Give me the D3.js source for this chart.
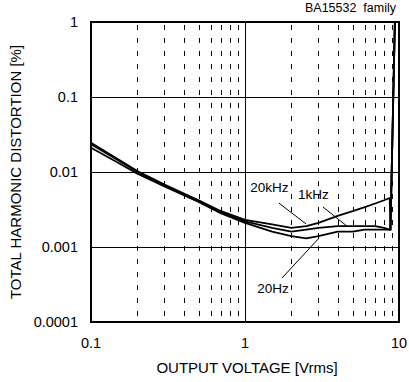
<!DOCTYPE html>
<html><head><meta charset="utf-8">
<script src="https://cdn.jsdelivr.net/npm/d3@7"></script>
<style>
html,body{margin:0;padding:0;background:#fff;}
text{font-family:"Liberation Sans",Arial,sans-serif;fill:#000;}
</style></head>
<body>
<svg id="c" width="409" height="382"></svg>
<script>
const volts   = [0.1, 0.15, 0.2, 0.3, 0.5, 0.7, 1, 1.5, 2, 2.5, 3, 4, 5, 6, 7, 8, 8.7, 8.8, 9.4];
const thd20k  = [0.0245, 0.0148, 0.0103, 0.0068, 0.0042, 0.0030, 0.0023, 0.0020, 0.0018, 0.0019, 0.0021, 0.0026, 0.0030, 0.0034, 0.0038, 0.0042, 0.0045, 0.0017, 1];
const thd1k   = [0.0235, 0.0143, 0.0100, 0.0066, 0.0041, 0.0029, 0.0022, 0.0018, 0.0016, 0.0017, 0.0018, 0.0019, 0.0019, 0.0019, 0.0019, 0.0018, 0.0017, 0.0017, 1];
const thd20   = [0.0210, 0.0133, 0.0095, 0.0064, 0.0040, 0.0028, 0.0021, 0.0016, 0.0014, 0.0013, 0.0014, 0.0016, 0.0016, 0.0017, 0.0017, 0.0017, 0.0017, 0.0017, 1];
const seriesNames = ["20kHz", "1kHz", "20Hz"];
const xTicks = [0.1, 1, 10];
const xTickLabels = ["0.1", "1", "10"];
const yTicks = [0.0001, 0.001, 0.01, 0.1, 1];
const yTickLabels = ["0.0001", "0.001", "0.01", "0.1", "1"];
const xMinor = [0.2,0.3,0.4,0.5,0.6,0.7,0.8,0.9,2,3,4,5,6,7,8,9];
const annotations = [
  {name:"20kHz", tv:1.08, tt:0.0054,  x1:1.66, y1:0.00386, x2:2.49, y2:0.00203},
  {name:"1kHz",  tv:2.21, tt:0.00437, x1:3.21, y1:0.00341, x2:4.59, y2:0.0019},
  {name:"20Hz",  tv:1.2,  tt:0.000244,x1:1.74, y1:0.000386,x2:3.03, y2:0.00132}
];

const svg = d3.select("#c");
const L = 91, R = 399, T = 22, B = 322;
const x = d3.scaleLog().domain([0.1, 10]).range([L, R]);
const y = d3.scaleLog().domain([0.0001, 1]).range([B, T]);

svg.append("g").selectAll("line").data(xMinor).join("line")
  .attr("x1", d => Math.round(x(d)) + 0.5).attr("x2", d => Math.round(x(d)) + 0.5)
  .attr("y1", T + 3).attr("y2", B)
  .attr("stroke", "#000").attr("stroke-width", 1).attr("stroke-dasharray", "5,8");

svg.append("g").selectAll("line").data([1]).join("line")
  .attr("x1", d => Math.round(x(d)) + 0.5).attr("x2", d => Math.round(x(d)) + 0.5)
  .attr("y1", T).attr("y2", B).attr("stroke", "#000").attr("stroke-width", 1);
svg.append("g").selectAll("line").data([0.001, 0.01, 0.1]).join("line")
  .attr("y1", d => Math.round(y(d)) + 0.5).attr("y2", d => Math.round(y(d)) + 0.5)
  .attr("x1", L).attr("x2", R).attr("stroke", "#000").attr("stroke-width", 1);

const line = d3.line().x(d => x(d[0])).y(d => y(d[1]));
[thd20k, thd1k, thd20].forEach((s, i) => {
  const pts = volts.map((v, j) => [v, s[j]]);
  svg.append("path").datum(pts).attr("d", line)
    .attr("fill", "none").attr("stroke", "#000").attr("stroke-width", 1.8)
    .attr("stroke-linejoin", "round");
});

svg.append("rect").attr("x", L).attr("y", T).attr("width", R - L).attr("height", B - T)
  .attr("fill", "none").attr("stroke", "#000").attr("stroke-width", 2);

svg.append("g").selectAll("text").data(xTicks).join("text")
  .attr("x", d => x(d)).attr("y", 348).attr("text-anchor", "middle")
  .attr("font-size", 14.5).text((d, i) => xTickLabels[i]);
svg.append("g").selectAll("text").data(yTicks).join("text")
  .attr("x", 78).attr("y", d => y(d) + 5).attr("text-anchor", "end")
  .attr("font-size", 14.5).text((d, i) => yTickLabels[i]);

svg.append("text").attr("x", 247).attr("y", 373).attr("text-anchor", "middle")
  .attr("font-size", 15).text("OUTPUT VOLTAGE [Vrms]");
svg.append("text").attr("transform", "translate(21,172) rotate(-90)")
  .attr("text-anchor", "middle").attr("font-size", 15).text("TOTAL HARMONIC DISTORTION [%]");
svg.append("text").attr("x", 396).attr("y", 12).attr("text-anchor", "end")
  .attr("font-size", 12.5).style("white-space", "pre").text("BA15532  family");

annotations.forEach(a => {
  svg.append("text").attr("x", x(a.tv)).attr("y", y(a.tt)).attr("font-size", 13.5).text(a.name);
  svg.append("line").attr("x1", x(a.x1)).attr("y1", y(a.y1)).attr("x2", x(a.x2)).attr("y2", y(a.y2))
    .attr("stroke", "#000").attr("stroke-width", 1);
});
</script>
</body></html>
